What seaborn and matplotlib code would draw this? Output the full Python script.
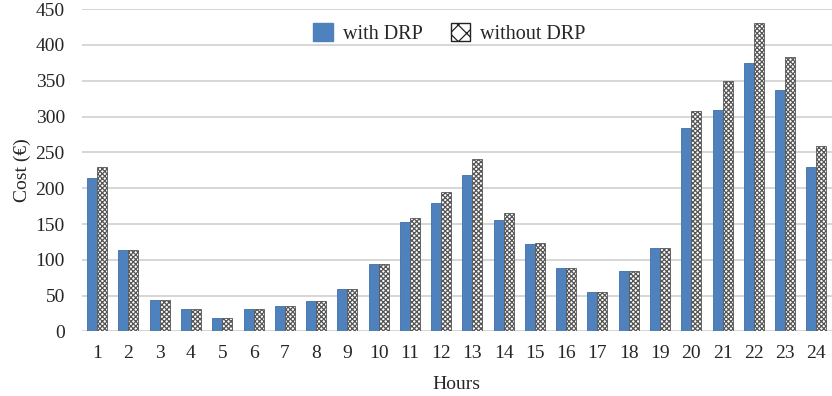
import matplotlib
matplotlib.use("Agg")
import matplotlib.pyplot as plt
import seaborn as sns
import pandas as pd
from matplotlib.patches import Patch

hours = [str(h) for h in range(1, 25)]
with_drp = [214, 114, 44, 32, 19, 31, 35, 42, 59, 94, 153, 180, 219, 156, 122, 89, 55, 85,
            117, 284, 309, 375, 337, 230]
without_drp = [229, 114, 44, 32, 19, 31, 35, 42, 59, 94, 159, 195, 241, 165, 124, 89, 55, 85,
               117, 308, 350, 430, 383, 259]
series = ["with DRP", "without DRP"]
yticks = [0, 50, 100, 150, 200, 250, 300, 350, 400, 450]

df = pd.DataFrame({
    "Hours": hours * 2,
    "Cost": with_drp + without_drp,
    "Series": [series[0]] * len(hours) + [series[1]] * len(hours),
})

sns.set_style("white")
plt.rcParams["font.family"] = ["Liberation Serif", "DejaVu Serif"]
plt.rcParams["hatch.linewidth"] = 0.9

fig = plt.figure(figsize=(8.32, 3.96), dpi=100)
ax = fig.add_axes([0.098, 0.163, 0.902, 0.814])

sns.barplot(data=df, x="Hours", y="Cost", hue="Series", order=hours,
            hue_order=series, palette=["#4F81BD", "white"], width=0.64,
            ax=ax, legend=False, saturation=1)

for p in ax.containers[0]:
    p.set_edgecolor("#3E6EA8")
    p.set_linewidth(0.6)
for p in ax.containers[1]:
    p.set_hatch("xxxxxxx")
    p.set_edgecolor("#555555")
    p.set_linewidth(0.6)

ax.set_ylim(0, 450)
ax.set_yticks(yticks)
ax.set_xlim(-0.5, 23.5)
ax.yaxis.grid(True, color="#D0D0D0", linewidth=1.2)
ax.set_axisbelow(True)
for s in ax.spines.values():
    s.set_visible(False)
ax.tick_params(axis="y", length=5, color="#D0D0D0", labelsize=14, pad=7)
ax.tick_params(axis="x", length=0, labelsize=14, pad=10)
ax.set_xlabel("Hours", fontsize=14, labelpad=10)
ax.set_ylabel("Cost (€)", fontsize=14, labelpad=3)

handles = [Patch(facecolor="#4F81BD", edgecolor="#4F81BD"),
           Patch(facecolor="white", edgecolor="#222222", hatch="xx")]
ax.legend(handles, series, loc="upper center", bbox_to_anchor=(0.49, 1.0), ncol=2,
          frameon=False, fontsize=14.5, handlelength=0.95, handleheight=1.0,
          columnspacing=1.4, handletextpad=0.5, borderaxespad=0.3)

fig.savefig("out.png", dpi=100, facecolor="white")
